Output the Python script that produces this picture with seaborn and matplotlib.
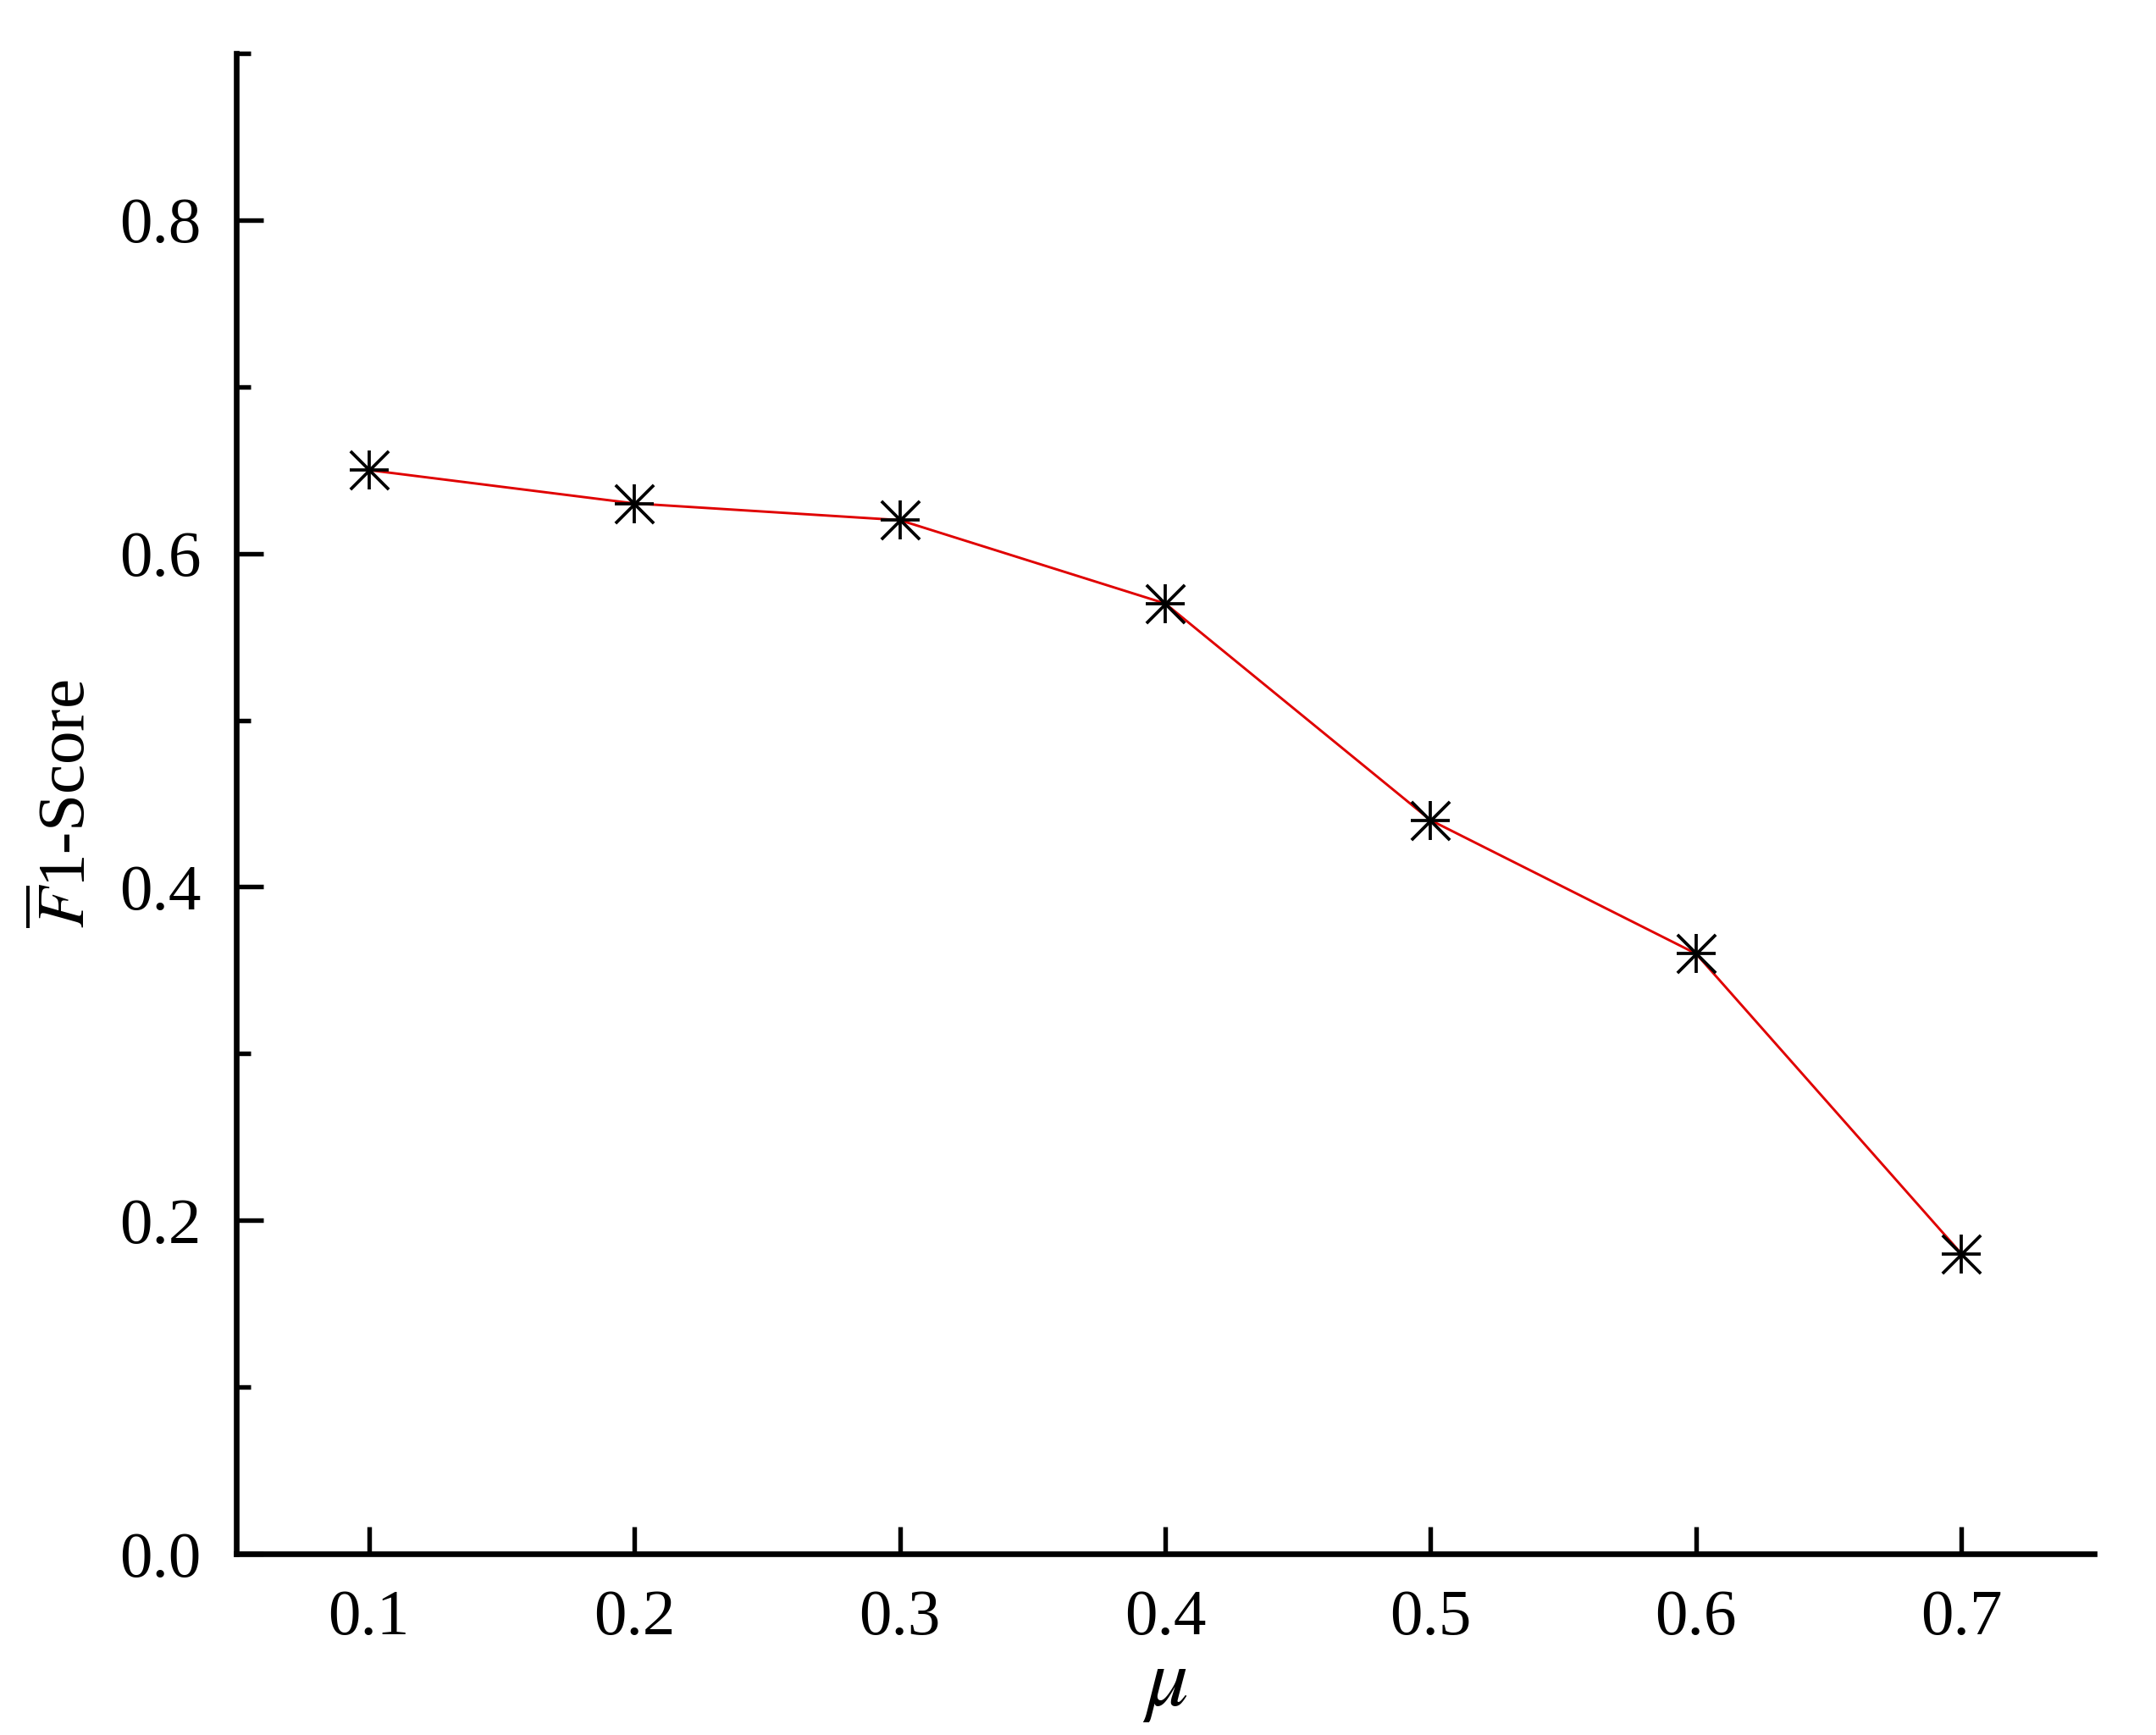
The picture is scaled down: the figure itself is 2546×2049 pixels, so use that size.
import matplotlib
matplotlib.use("Agg")
import matplotlib.pyplot as plt
import seaborn as sns
import pandas as pd
from matplotlib.ticker import MultipleLocator, FormatStrFormatter

mu = [0.1, 0.2, 0.3, 0.4, 0.5, 0.6, 0.7]
f1_score = [0.65, 0.63, 0.62, 0.57, 0.44, 0.36, 0.18]
xticks = [0.1, 0.2, 0.3, 0.4, 0.5, 0.6, 0.7]
yticks = [0.0, 0.2, 0.4, 0.6, 0.8]

df = pd.DataFrame({"mu": mu, "f1": f1_score})

sns.set_theme(style="ticks")
plt.rcParams['font.family'] = ['Liberation Serif', 'DejaVu Serif']
plt.rcParams['mathtext.fontset'] = 'stix'
plt.rcParams['text.color'] = 'black'
plt.rcParams['axes.labelcolor'] = 'black'

fig = plt.figure(figsize=(2546/300, 2049/300), dpi=300)
ax = fig.add_axes([0.1096, 0.1044, 0.9713-0.1096, 0.9693-0.1044])

sns.lineplot(data=df, x="mu", y="f1", color="#e00000", linewidth=0.7, ax=ax, zorder=2)
sns.scatterplot(data=df, x="mu", y="f1", marker="+", s=118, color="black",
                linewidth=0.9, ax=ax, zorder=3)
sns.scatterplot(data=df, x="mu", y="f1", marker="x", s=118, color="black",
                linewidth=0.9, ax=ax, zorder=3)

ax.set_xlim(0.05, 0.75)
ax.set_ylim(0.0, 0.9)
ax.set_xticks(xticks)
ax.set_yticks(yticks)
ax.yaxis.set_minor_locator(MultipleLocator(0.1))
ax.xaxis.set_major_formatter(FormatStrFormatter('%.1f'))
ax.yaxis.set_major_formatter(FormatStrFormatter('%.1f'))

for s in ['top', 'right']:
    ax.spines[s].set_visible(False)
for s in ['left', 'bottom']:
    ax.spines[s].set_linewidth(1.6)
    ax.spines[s].set_color('black')

ax.tick_params(axis='both', which='major', direction='in', length=7.7, width=1.3,
               labelsize=18.5, pad=10, colors='black')
ax.tick_params(axis='y', which='minor', direction='in', length=4, width=1.3, colors='black')

ax.set_xlabel(r'$\mu$', fontsize=24, labelpad=0, color='black')
ax.set_ylabel(r'$\overline{F}$1-Score', fontsize=19, labelpad=6, color='black')

fig.savefig("out.png", dpi=300, facecolor="white")
